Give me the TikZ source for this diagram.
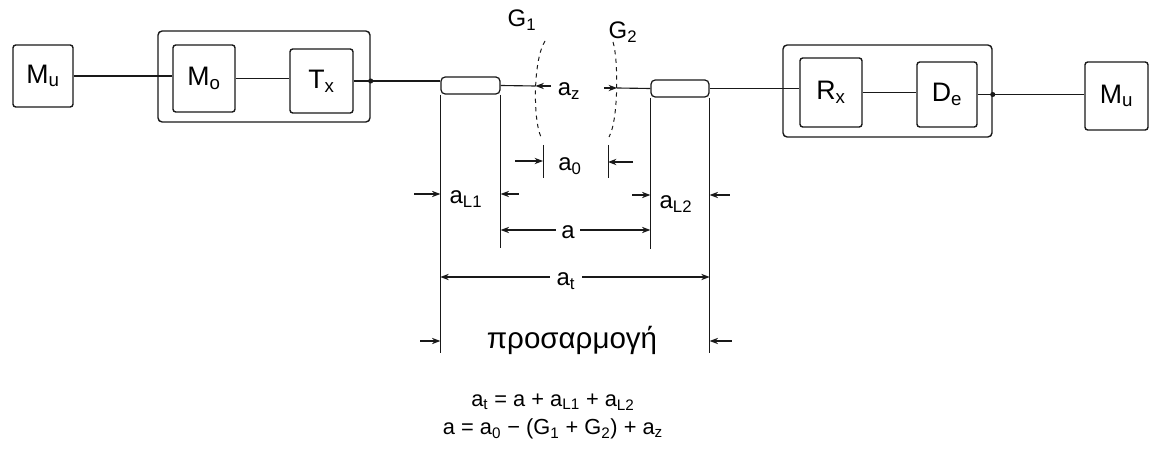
\documentclass[tikz,border=0pt]{standalone}
\usepackage{fontspec}
\setmainfont{Liberation Sans}
\usetikzlibrary{arrows.meta,positioning,calc}
\definecolor{ink}{RGB}{25,25,25}
\tikzset{
  bx/.style 2 args={rectangle,rounded corners=2pt,draw=ink,line width=1pt,
    minimum width=#1,minimum height=#2,inner sep=0pt,
    font=\fontsize{19}{22}\selectfont},
  grp/.style 2 args={rectangle,rounded corners=3pt,draw=ink,line width=1pt,
    minimum width=#1,minimum height=#2,inner sep=0pt},
  fer/.style={rectangle,rounded corners=3pt,draw=ink,line width=0.9pt,
    minimum width=#1,minimum height=0.425cm,inner sep=0pt},
  fer/.default=1.475cm,
  ln/.style={draw=ink,line width=0.8pt},
  arr/.style={-{Stealth[length=6pt,width=4.5pt]},ln},
  dimln/.style={{Stealth[length=6pt,width=4.5pt]}-{Stealth[length=6pt,width=4.5pt]},ln},
  ext/.style={draw=ink,line width=0.6pt},
  face/.style={draw=ink,line width=0.7pt,dashed},
  lbl/.style={font=\fontsize{17}{20}\selectfont,inner sep=1pt},
  eqn/.style={font=\fontsize{15.5}{18}\selectfont,inner sep=0pt},
}
\begin{document}
\begin{tikzpicture}[x=0.025cm,y=-0.025cm]
  \useasboundingbox (0,0) rectangle (1157,472);
  % transmitter side
  \node[bx={1.5cm}{1.55cm}] (srcl) at (43,76) {M\textsubscript{u}};
  \node[grp={5.3cm}{2.275cm}] (txgrp) at (264,76.5) {};
  \node[bx={1.55cm}{1.675cm}] (mod) at (204,78.5) {M\textsubscript{o}};
  \node[bx={1.575cm}{1.6cm}] (tx) at (321.5,81) {T\textsubscript{x}};
  % ferrules
  \node[fer] (fl) at (470.5,85.5) {};
  \node[fer=1.45cm] (fr) at (680,88.5) {};
  % receiver side
  \node[grp={5.225cm}{2.3cm}] (rxgrp) at (887.5,91) {};
  \node[bx={1.55cm}{1.725cm}] (rx) at (831,92.5) {R\textsubscript{x}};
  \node[bx={1.5cm}{1.625cm}] (dem) at (947,94.5) {D\textsubscript{e}};
  \node[bx={1.575cm}{1.7cm}] (snkr) at (1116.5,96) {M\textsubscript{u}};

  \draw[ln] (srcl.east) -- (srcl.east -| mod.west);
  \draw[ln] (mod.east) -- (mod.east -| tx.west);
  \draw[ln] (tx.east) -- (tx.east -| fl.west);
  \fill[ink] (tx.east -| txgrp.east) circle (1.8pt);
  \draw[ln] (fr.east) -- (fr.east -| rx.west);
  \draw[ln] (rx.east) -- (rx.east -| dem.west);
  \draw[ln] (dem.east) -- (dem.east -| snkr.west);
  \fill[ink] (dem.east -| rxgrp.east) circle (1.8pt);

  % end faces and gap
  \node[lbl] (g1l) at (522,20) {G\textsubscript{1}};
  \node[lbl] (g2l) at (623,32) {G\textsubscript{2}};
  \draw[face] (545,41) .. controls (533,60) and (533,120) .. (541,137);
  \draw[face] (613,42) .. controls (618.5,60) and (618.5,120) .. (609,137);
  \coordinate (g1m) at (535.5,86);
  \coordinate (g2m) at (617,88);
  \coordinate (azl) at (551,86);
  \coordinate (azr) at (604,88);
  \node[lbl] (az) at (569,91) {a\textsubscript{z}};
  \draw[ln] (fl.east) -- (g1m);
  \draw[arr] (azl) -- (g1m);
  \draw[arr] (azr) -- (g2m);
  \draw[ln] (g2m) -- (fr.west);

  % a_0
  \coordinate (t1) at (543,145);
  \coordinate (t2) at (608,145);
  \draw[ext] (t1) -- ++(0,33);
  \draw[ext] (t2) -- ++(0,33);
  \coordinate (a0l) at (515,161);
  \coordinate (a0r) at (633,162);
  \draw[arr] (a0l) -- (a0l -| t1);
  \draw[arr] (a0r) -- (a0r -| t2);
  \node[lbl] (a0) at (570,166) {a\textsubscript{0}};

  % extension lines
  \draw[ext] (fl.south west) -- ++(0,258);
  \draw[ext] (fl.south east) -- ++(0,153);
  \draw[ext] (fr.south west) -- ++(0,151);
  \draw[ext] (fr.south east) -- ++(0,255);

  % a_L1 and a_L2
  \coordinate (yl) at (0,194);
  \draw[arr] ($(fl.south west |- yl)+(-26,0)$) -- (fl.south west |- yl);
  \draw[arr] ($(fl.south east |- yl)+(18,0)$) -- (fl.south east |- yl);
  \node[lbl] (al1) at (466,199) {a\textsubscript{L1}};
  \draw[arr] ($(fr.south west |- yl)+(-18,1)$) -- ($(fr.south west |- yl)+(0,1)$);
  \draw[arr] ($(fr.south east |- yl)+(20,1)$) -- ($(fr.south east |- yl)+(0,1)$);
  \node[lbl] (al2) at (676,204) {a\textsubscript{L2}};

  % a
  \coordinate (ya) at (0,230);
  \draw[dimln] (fl.south east |- ya) -- (fr.south west |- ya);
  \node[lbl,fill=white,inner sep=4pt] (aa) at (568,232) {a};

  % a_t
  \coordinate (yt) at (0,277);
  \draw[dimln] (fl.south west |- yt) -- (fr.south east |- yt);
  \node[lbl,fill=white,inner sep=5pt] (at) at (566,281) {a\textsubscript{t}};

  % adapter
  \coordinate (yb) at (0,341);
  \draw[arr] ($(fl.south west |- yb)+(-20,0)$) -- (fl.south west |- yb);
  \draw[arr] ($(fr.south east |- yb)+(22,0)$) -- (fr.south east |- yb);
  \node[lbl,font=\fontsize{21}{24}\selectfont] (adp) at (572,340) {προσαρμογή};

  % relations
  \node[eqn] (eq1) at (553,402) {a\textsubscript{t} = a + a\textsubscript{L1} + a\textsubscript{L2}};
  \node[eqn] (eq2) at (553,429) {a = a\textsubscript{0} − (G\textsubscript{1} + G\textsubscript{2}) + a\textsubscript{z}};
\end{tikzpicture}
\end{document}
